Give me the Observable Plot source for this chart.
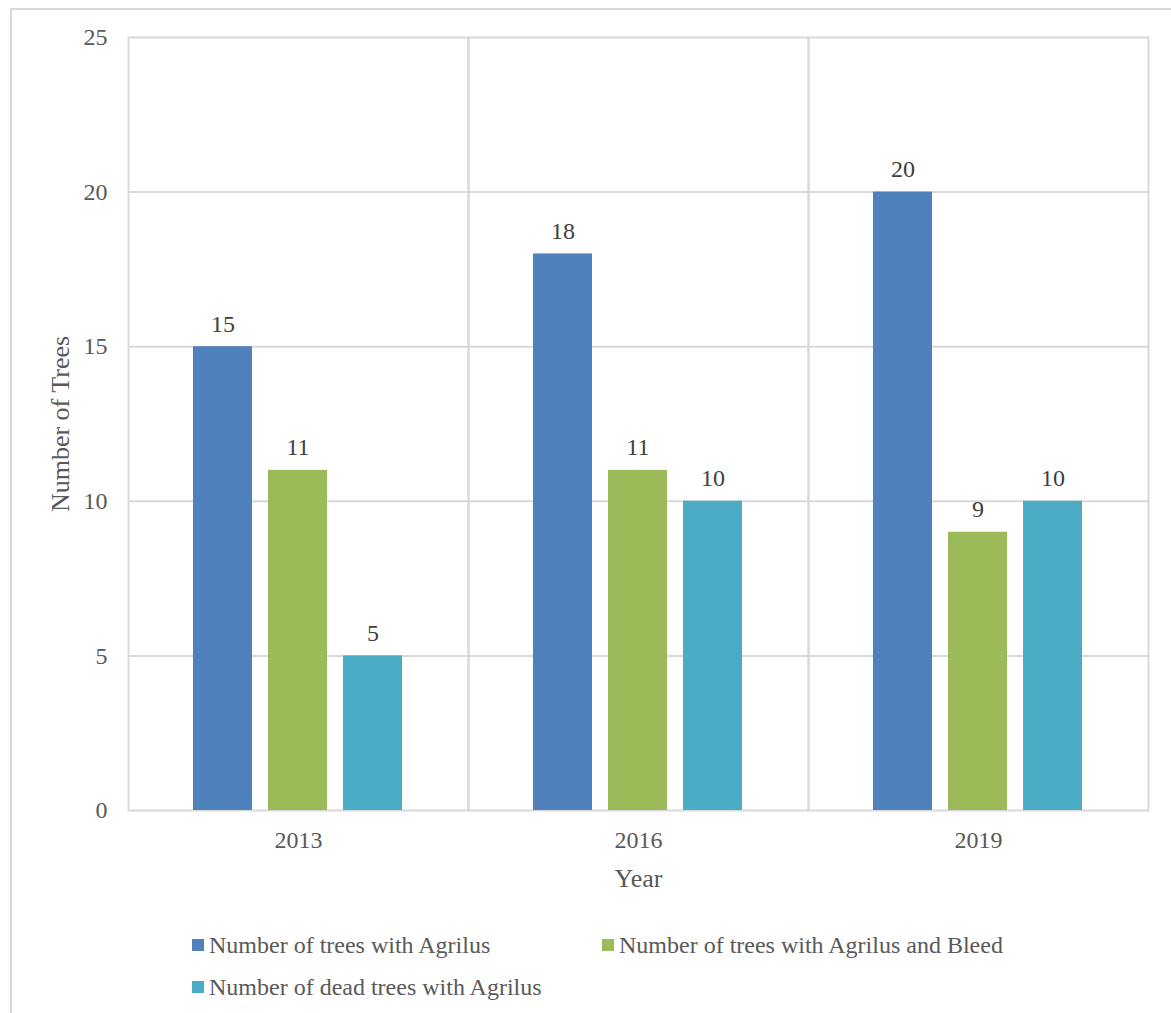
<!DOCTYPE html>
<html>
<head>
<meta charset="utf-8">
<script src="https://cdn.jsdelivr.net/npm/d3@7"></script>
<script src="https://cdn.jsdelivr.net/npm/@observablehq/plot@0.6"></script>
<style>
  html, body { margin: 0; padding: 0; background: #ffffff; overflow: hidden; }
  body { width: 1171px; height: 1013px; position: relative; font-family: "Liberation Serif", "Times New Roman", serif; }
  #border { position: absolute; left: 10px; top: 8px; width: 1300px; height: 1300px; border: 2px solid #d9d9d9; box-sizing: border-box; }
  #chart { position: absolute; left: 0; top: 0; }
  #chart svg, #chart svg text { font-family: "Liberation Serif", "Times New Roman", serif !important; }
  .lg-swatch { position: absolute; width: 12px; height: 12px; }
  .lg-text { position: absolute; font-size: 24px; line-height: 24px; color: #595959; white-space: nowrap; }
</style>
</head>
<body>
<div id="border"></div>
<div id="chart"></div>
<div id="legend"></div>
<script>
// Survey years and the three tree counts recorded for each
const years = ["2013", "2016", "2019"];
const seriesNames = [
  "Number of trees with Agrilus",
  "Number of trees with Agrilus and Bleed",
  "Number of dead trees with Agrilus"
];
const withAgrilus = [15, 18, 20];
const withAgrilusAndBleed = [11, 11, 9];
const deadWithAgrilus = [5, 10, 10];
const seriesColors = ["#4f81bd", "#9bbb59", "#4bacc6"];
const yTicks = [0, 5, 10, 15, 20, 25];

// Long-format table for the grouped bars
const seriesValues = [withAgrilus, withAgrilusAndBleed, deadWithAgrilus];
const rows = [];
years.forEach((year, i) => {
  seriesNames.forEach((name, j) => {
    rows.push({year, series: name, value: seriesValues[j][i]});
  });
});

const serif = "'Liberation Serif', 'Times New Roman', serif";
const grid = "#d9d9d9";

const chart = Plot.plot({
  width: 1171,
  height: 900,
  marginLeft: 127,
  marginRight: 23,
  marginTop: 37,
  marginBottom: 90,
  style: {fontFamily: serif, fontSize: "24px", color: "#595959", background: "transparent"},
  fx: {domain: years, padding: 0, label: "Year"},
  x: {domain: seriesNames, paddingInner: 0.213, paddingOuter: 0.873, axis: null},
  y: {domain: [0, 25], label: "Number of Trees"},
  color: {domain: seriesNames, range: seriesColors},
  marks: [
    Plot.gridY(yTicks.filter(t => t > 0 && t < 25), {stroke: grid, strokeOpacity: 1, strokeWidth: 2}),
    Plot.frame({stroke: grid, strokeWidth: 2}),
    Plot.barY(rows, {fx: "year", x: "series", y: "value", fill: "series"}),
    Plot.text(rows, {fx: "year", x: "series", y: "value", text: d => String(d.value), lineAnchor: "bottom", dy: -15, fill: "#404040", fontSize: 24, fontFamily: serif}),
    Plot.axisY(yTicks, {
      tickSize: 0, tickPadding: 21, fontSize: 24, fontFamily: serif,
      label: "Number of Trees", labelAnchor: "center", labelArrow: "none", labelOffset: 78
    }),
    Plot.axisFx({
      anchor: "bottom", tickSize: 0, tickPadding: 20, fontSize: 24, fontFamily: serif,
      label: "Year", labelAnchor: "center", labelArrow: "none", labelOffset: 76
    })
  ]
});

// Axis titles are set slightly larger than the tick labels
chart.querySelectorAll("g[aria-label='y-axis label'] text, g[aria-label='fx-axis label'] text").forEach(t => t.setAttribute("font-size", "26"));
document.getElementById("chart").appendChild(chart);

// Legend below the plot area
const legendSpots = [
  {x: 192, y: 939},
  {x: 602, y: 939},
  {x: 192, y: 981}
];
const legend = document.getElementById("legend");
seriesNames.forEach((name, i) => {
  const sw = document.createElement("div");
  sw.className = "lg-swatch";
  sw.style.left = legendSpots[i].x + "px";
  sw.style.top = legendSpots[i].y + "px";
  sw.style.background = seriesColors[i];
  legend.appendChild(sw);
  const tx = document.createElement("div");
  tx.className = "lg-text";
  tx.style.left = (legendSpots[i].x + 17) + "px";
  tx.style.top = (legendSpots[i].y - 6) + "px";
  tx.textContent = name;
  legend.appendChild(tx);
});
</script>
</body>
</html>
